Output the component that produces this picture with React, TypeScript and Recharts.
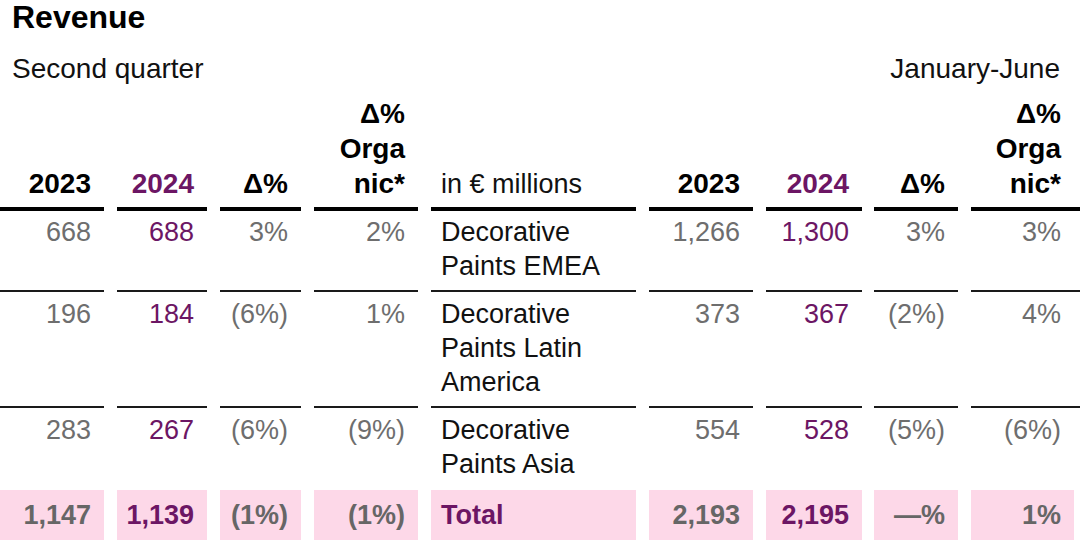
import { Surface, Layer, Text, Rectangle } from 'recharts';

// header texts
const title = 'Revenue';
const leftPeriod = 'Second quarter';
const rightPeriod = 'January-June';
const unitLabel = 'in € millions';
const periodHeaders = [['2023'], ['2024'], ['Δ%'], ['Δ%', 'Orga', 'nic*']];

// rows
const segments = [
  ['Decorative', 'Paints EMEA'],
  ['Decorative', 'Paints Latin', 'America'],
  ['Decorative', 'Paints Asia'],
];
const q2Rev2023 = [668, 196, 283];
const q2Rev2024 = [688, 184, 267];
const q2Delta = [3, -6, -6];
const q2Organic = [2, 1, -9];
const h1Rev2023 = [1266, 373, 554];
const h1Rev2024 = [1300, 367, 528];
const h1Delta = [3, -2, -5];
const h1Organic = [3, 4, -6];

// total row
const totalLabel = 'Total';
const q2Totals = [1147, 1139, -1, -1];
const h1Totals = [2193, 2195, 0, 1];

const W = 1080;
const H = 546;
const FONT = '"Liberation Sans", Arial, Helvetica, sans-serif';
const GRAY = '#6e6e6e';
const PURPLE = '#6c1664';
const INK = '#111111';
const PINK = '#fdd8e8';

// column spans [left, right]
const COLS: [number, number][] = [
  [0, 104], [117, 207], [220, 301], [314, 418],
  [431, 636],
  [649, 753], [766, 862], [874, 958], [971, 1074],
];
const PAD = 13;
const LINE = 34;
const HEAD_BASE = 193;
const colColor = [GRAY, PURPLE, GRAY, GRAY, INK, GRAY, PURPLE, GRAY, GRAY];

const num = (v: number) => v.toLocaleString('en-US');
const pct = (v: number) => (v < 0 ? `(${-v}%)` : v === 0 ? '—%' : `${v}%`);

function Cell({ col, y, text, color, bold, size = 27 }: {
  col: number; y: number; text: string; color: string; bold?: boolean; size?: number;
}) {
  const [x0, x1] = COLS[col];
  const isLabel = col === 4;
  return (
    <Text
      x={isLabel ? x0 + 10 : x1 - PAD}
      y={y}
      textAnchor={isLabel ? 'start' : 'end'}
      verticalAnchor="end"
      fontSize={size}
      fontWeight={bold ? 700 : 400}
      fill={color}
    >
      {text}
    </Text>
  );
}

export default function App() {
  const headerRule = 209;
  const rows = segments.map((lines, i) => ({
    lines,
    values: [
      num(q2Rev2023[i]), num(q2Rev2024[i]), pct(q2Delta[i]), pct(q2Organic[i]),
      '',
      num(h1Rev2023[i]), num(h1Rev2024[i]), pct(h1Delta[i]), pct(h1Organic[i]),
    ],
  }));

  let top = headerRule;
  const rowLayout = rows.map((r) => {
    const t = top;
    top = t + LINE * r.lines.length + 14;
    return { ...r, top: t, bottom: top };
  });
  const totalTop = top + 1;
  const totalValues = [
    num(q2Totals[0]), num(q2Totals[1]), pct(q2Totals[2]), pct(q2Totals[3]),
    totalLabel,
    num(h1Totals[0]), num(h1Totals[1]), pct(h1Totals[2]), pct(h1Totals[3]),
  ];

  return (
    <div style={{ width: W, height: H }}>
      <style>{'body{margin:0}'}</style>
      <Surface width={W} height={H} style={{ fontFamily: FONT, display: 'block' }}>
        <Layer>
          <Text x={12} y={28} fontSize={32} fontWeight={700} fill="#000" verticalAnchor="end">
            {title}
          </Text>
          <Text x={12} y={78} fontSize={28} fill={INK} verticalAnchor="end">
            {leftPeriod}
          </Text>
          <Text x={1060} y={78} fontSize={28} fill={INK} textAnchor="end" verticalAnchor="end">
            {rightPeriod}
          </Text>
        </Layer>

        {/* column headers */}
        <Layer>
          {[0, 1].map((side) =>
            periodHeaders.map((lines, j) => {
              const col = side === 0 ? j : j + 5;
              return lines.map((ln, k) => (
                <Cell
                  key={`h${col}-${k}`}
                  col={col}
                  y={HEAD_BASE - (lines.length - 1 - k) * 35}
                  text={ln}
                  color={j === 1 ? PURPLE : '#000'}
                  bold
                  size={28}
                />
              ));
            }),
          )}
          <Cell col={4} y={HEAD_BASE} text={unitLabel} color={INK} />
          {COLS.map(([x0, x1], c) => (
            <Rectangle key={`hr${c}`} x={x0} y={headerRule - 2} width={(c === 8 ? W : x1) - x0} height={4} fill="#000" />
          ))}
        </Layer>

        {/* body rows */}
        <Layer>
          {rowLayout.map((r, i) => (
            <Layer key={`r${i}`}>
              {r.values.map((v, c) =>
                c === 4 ? null : (
                  <Cell key={`c${c}`} col={c} y={r.top + 32} text={v} color={colColor[c]} />
                ),
              )}
              {r.lines.map((ln, k) => (
                <Cell key={`l${k}`} col={4} y={r.top + 32 + k * LINE} text={ln} color={INK} />
              ))}
              {i < rowLayout.length - 1 &&
                COLS.map(([x0, x1], c) => (
                  <Rectangle key={`rl${c}`} x={x0} y={r.bottom - 1} width={(c === 8 ? W : x1) - x0} height={2} fill="#1a1a1a" />
                ))}
            </Layer>
          ))}
        </Layer>

        {/* total row */}
        <Layer>
          {COLS.map(([x0, x1], c) => (
            <Rectangle key={`tb${c}`} x={x0} y={totalTop} width={x1 - x0} height={50} fill={PINK} />
          ))}
          {totalValues.map((v, c) => (
            <Cell
              key={`t${c}`}
              col={c}
              y={totalTop + 34}
              text={v}
              color={c === 4 ? PURPLE : colColor[c] === PURPLE ? PURPLE : '#666666'}
              bold
            />
          ))}
        </Layer>
      </Surface>
    </div>
  );
}
